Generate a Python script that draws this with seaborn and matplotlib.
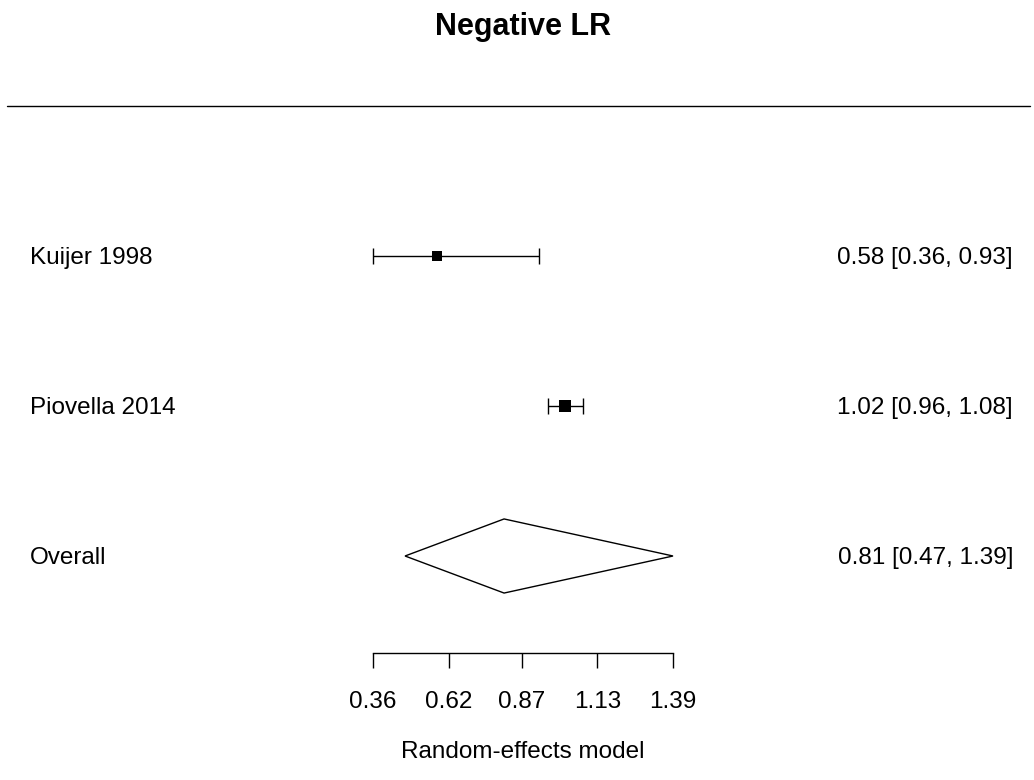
import numpy as np
import matplotlib
matplotlib.use("Agg")
import matplotlib.pyplot as plt
from matplotlib.patches import Polygon
import seaborn as sns
import pandas as pd

# study data (negative likelihood ratios)
studies = ["Kuijer 1998", "Piovella 2014"]
estimates = [0.58, 1.02]
ci_lower = [0.36, 0.96]
ci_upper = [0.93, 1.08]
marker_sizes = [55, 78]  # square areas (pt^2), larger = more weight

# pooled random-effects estimate
overall_label = "Overall"
overall_est = 0.81
overall_lo = 0.47
overall_hi = 1.39

xticks = [0.36, 0.62, 0.87, 1.13, 1.39]
title = "Negative LR"
xlabel = "Random-effects model"

sns.set_style("white")
plt.rcParams["font.family"] = ["Liberation Sans", "DejaVu Sans"]
plt.rcParams["text.color"] = "black"
plt.rcParams["xtick.color"] = "black"
plt.rcParams["axes.labelcolor"] = "black"

W, H = 1034, 780
fig = plt.figure(figsize=(W / 100, H / 100), dpi=100)
ax = fig.add_axes([0, 0, 1, 1])
ax.patch.set_alpha(0)

# pixel geometry of the layout
x0_px, px_per_unit = 373, 300 / (1.39 - 0.36)
row_px, row_step = 256, 150
ax.set_xlim(0.36 - x0_px / px_per_unit, 0.36 + (W - x0_px) / px_per_unit)
ax.set_ylim(3 - (H - row_px) / row_step, 3 + row_px / row_step)

k = len(studies)
rows = [k + 2 - i for i in range(1, k + 1)]  # 3, 2
overall_row = rows[-1] - 1

df = pd.DataFrame({"study": studies, "est": estimates, "lo": ci_lower,
                   "hi": ci_upper, "row": rows})

# confidence intervals
ax.errorbar(df["est"], df["row"],
            xerr=[df["est"] - df["lo"], df["hi"] - df["est"]],
            fmt="none", ecolor="black", elinewidth=1.0, capsize=5.8,
            capthick=1.0, zorder=2)
# point estimates
sns.scatterplot(data=df, x="est", y="row", marker="s", color="black",
                s=marker_sizes, linewidth=0, ax=ax, zorder=3, legend=False)

# summary diamond
h = 0.247
diamond = Polygon([(overall_lo, overall_row), (overall_est, overall_row + h),
                   (overall_hi, overall_row), (overall_est, overall_row - h)],
                  closed=True, facecolor="white", edgecolor="black", lw=1.0)
ax.add_patch(diamond)

fs = 17.5
left_x = 30 / W
right_x = 1013 / W
for lab, r, e, lo, hi in zip(studies + [overall_label],
                             rows + [overall_row],
                             estimates + [overall_est],
                             ci_lower + [overall_lo],
                             ci_upper + [overall_hi]):
    ax.text(left_x, r - 0.012, lab, transform=ax.get_yaxis_transform(),
            ha="left", va="center", fontsize=fs)
    ax.text(right_x, r - 0.012, f"{e:.2f} [{lo:.2f}, {hi:.2f}]",
            transform=ax.get_yaxis_transform(),
            ha="right", va="center", fontsize=fs)

# header separator line
ax.axhline(rows[0] + 1, xmin=7 / W, xmax=1030 / W, color="black", lw=1.0)

# x axis
axis_row = 3 - (653 - row_px) / row_step
for s in ["top", "left", "right"]:
    ax.spines[s].set_visible(False)
ax.spines["bottom"].set_position(("data", axis_row))
ax.spines["bottom"].set_bounds(xticks[0], xticks[-1])
ax.spines["bottom"].set_linewidth(1.0)
ax.spines["bottom"].set_color("black")
ax.set_xticks(xticks)
ax.set_xticklabels([f"{t:.2f}" for t in xticks])
ax.tick_params(axis="x", bottom=True, direction="out", length=10.8,
               width=1.0, pad=16.5, labelsize=fs, colors="black")
ax.set_yticks([])
ax.set_xlabel("")
ax.set_ylabel("")

ax.text(np.mean([xticks[0], xticks[-1]]), 3 - (752 - row_px) / row_step,
        xlabel, ha="center", va="center", fontsize=fs)

fig.text(523 / W, 1 - 35 / H, title, ha="center", va="baseline",
         fontsize=22, fontweight="bold")

fig.savefig("out.png", dpi=100, facecolor="white")
